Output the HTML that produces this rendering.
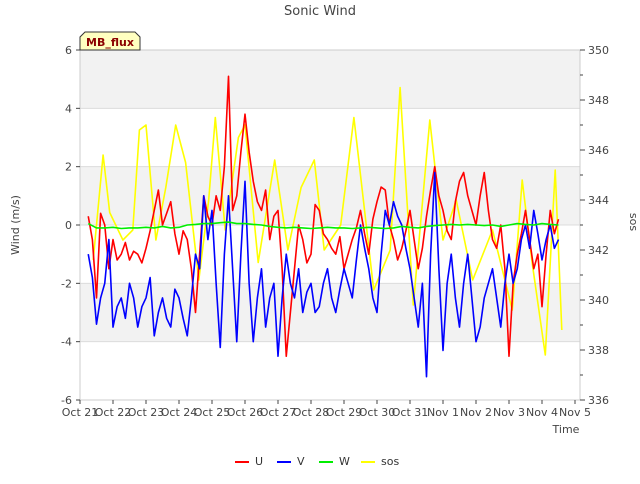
<!DOCTYPE html>
<html><head><meta charset="utf-8"><style>
body{margin:0;background:#fff;font-family:"DejaVu Sans","Liberation Sans",sans-serif;}
svg text{font-family:"DejaVu Sans","Liberation Sans",sans-serif;}
</style></head><body>
<svg id="chart" width="640" height="480" xmlns="http://www.w3.org/2000/svg">
<rect width="640" height="480" fill="#fff"/>
<g id="bands"></g>
<rect x="80" y="50" width="500" height="350" fill="none" stroke="#ccc"/>
<g id="axes"></g>
<g id="series"></g>
<text x="320" y="15" text-anchor="middle" font-size="13" fill="#444">Sonic Wind</text>
<g>
<path d="M80,50 L80,37 L85,32 L135,32 L140,37 L140,50 Z" fill="#ffffc0" stroke="#333"/>
<text x="110" y="46" text-anchor="middle" font-size="11" font-weight="bold" fill="#8b0000">MB_flux</text>
</g>
<text transform="translate(19,225) rotate(-90)" text-anchor="middle" font-size="11" fill="#444">Wind (m/s)</text>
<text transform="translate(630,222) rotate(90)" text-anchor="middle" font-size="11" fill="#444">sos</text>
<text x="566" y="433" text-anchor="middle" font-size="11" fill="#444">Time</text>
<g id="legend"></g>
</svg>
<script>
const xLabels=["Oct 21","Oct 22","Oct 23","Oct 24","Oct 25","Oct 26","Oct 27","Oct 28","Oct 29","Oct 30","Oct 31","Nov 1","Nov 2","Nov 3","Nov 4","Nov 5"];
const yTicks=[-6,-4,-2,0,2,4,6];
const y2Ticks=[336,338,340,342,344,346,348,350];
const uStartDay=0.25, uStepDay=0.125;
const uVals=[0.3,-0.5,-2.5,0.4,0,-1.5,-0.5,-1.2,-1,-0.6,-1.2,-0.9,-1,-1.3,-0.8,-0.2,0.5,1.2,0,0.4,0.8,-0.3,-1,-0.2,-0.5,-1.5,-3,-1,1,0.3,0,1,0.5,2,5.1,0.5,1,2.5,3.8,2.5,1.5,0.8,0.5,1.2,-0.5,0.3,0.5,-1.5,-4.5,-3,-1.5,0,-0.5,-1.3,-1,0.7,0.5,-0.3,-0.5,-0.8,-1,-0.4,-1.5,-1,-0.5,-0.1,0.5,-0.3,-1,0.2,0.8,1.3,1.2,0,-0.5,-1.2,-0.8,-0.2,0.5,-0.5,-1.5,-0.8,0.3,1.2,2,1,0.5,-0.2,-0.5,0.8,1.5,1.8,1,0.5,0,1,1.8,0.5,-0.5,-0.8,0,-1.5,-4.5,-2,-1,-0.3,0.5,-0.5,-1.5,-1,-2.8,-1,0.5,-0.3,0.2];
const vVals=[-1,-1.8,-3.4,-2.5,-2,-0.5,-3.5,-2.8,-2.5,-3.2,-2,-2.5,-3.5,-2.8,-2.5,-1.8,-3.8,-3,-2.5,-3.2,-3.5,-2.2,-2.5,-3.2,-3.8,-2.5,-1,-1.5,1,-0.5,0.5,-2,-4.2,-1,1,-1.5,-4,-1,1.5,-2,-4,-2.5,-1.5,-3.5,-2.5,-2,-4.5,-2.5,-1,-2,-2.5,-1.5,-3,-2.3,-2,-3,-2.8,-2,-1.5,-2.5,-3,-2.2,-1.5,-2,-2.5,-1.2,0,-0.8,-1.5,-2.5,-3,-1,0.5,0,0.8,0.3,0,-0.8,-1.5,-2.5,-3.5,-2,-5.2,-1,1.8,-1.5,-4.3,-2,-1,-2.5,-3.5,-2,-1,-2.5,-4,-3.5,-2.5,-2,-1.5,-2.5,-3.5,-2,-1,-2,-1.5,-0.5,0,-0.8,0.5,-0.3,-1.2,-0.5,0,-0.8,-0.5];
const wStartDay=0.25, wStepDay=0.25;
const wVals=[0.05,-0.1,-0.1,-0.08,-0.12,-0.1,-0.1,-0.08,-0.1,-0.05,-0.1,-0.08,0,0.02,0.05,0.05,0.08,0.1,0.05,0.05,0.02,0,-0.05,-0.08,-0.1,-0.08,-0.1,-0.12,-0.1,-0.08,-0.1,-0.1,-0.12,-0.1,-0.08,-0.1,-0.12,-0.1,-0.05,-0.08,-0.1,-0.05,-0.02,0,0.02,0,0.02,0,-0.02,0,-0.05,0,0.05,0.02,0,0.05,0.02,0];
const sosDays=[0.4,0.7,0.9,1.3,1.6,1.8,2.0,2.3,2.6,2.9,3.2,3.6,3.9,4.1,4.4,4.8,5.0,5.4,5.9,6.3,6.7,7.1,7.4,7.9,8.3,8.9,9.4,9.7,10.1,10.6,11.0,11.4,11.9,12.5,13.1,13.4,13.7,14.1,14.4,14.6];
const sosVals=[341.6,345.8,343.5,342.4,342.8,346.8,347,342.4,344.5,347,345.5,340.8,344,347.3,342.8,346.5,347,341.5,345.6,342,344.5,345.6,342,343,347.3,340.4,342,348.5,339.8,347.2,342.4,344,340.8,342.8,339.6,344.8,341.5,337.8,345.2,338.8];
const X=d=>80+d*33, Y=v=>400-(v+6)*350/12, Y2=v=>400-(v-336)*25;
const ns="http://www.w3.org/2000/svg";
function mk(t,a,p){const e=document.createElementNS(ns,t);for(const k in a)e.setAttribute(k,a[k]);p.appendChild(e);return e;}
const bands=document.getElementById('bands');
[[4,6],[0,2],[-4,-2]].forEach(b=>{const r=mk('rect',{x:80,y:Y(b[1]),width:500,height:Y(b[0])-Y(b[1]),fill:'#f2f2f2'},bands);

});
yTicks.forEach(v=>{mk('line',{x1:80,x2:580,y1:Y(v),y2:Y(v),stroke:'#dcdcdc'},bands);});
const ax=document.getElementById('axes');
yTicks.forEach(v=>{mk('line',{x1:76,x2:80,y1:Y(v),y2:Y(v),stroke:'#444'},ax);
const t=mk('text',{x:72,y:Y(v)+4,'text-anchor':'end','font-size':11,fill:'#444'},ax);t.textContent=v;

});
for(let v=336;v<=350;v++){mk('line',{x1:580,x2:v%2?583:585,y1:Y2(v),y2:Y2(v),stroke:'#444'},ax);}
y2Ticks.forEach(v=>{const t=mk('text',{x:588,y:Y2(v)+4,'font-size':11,fill:'#444'},ax);t.textContent=v;

});
xLabels.forEach((l,i)=>{mk('line',{x1:X(i),x2:X(i),y1:400,y2:404,stroke:'#444'},ax);
const t=mk('text',{x:X(i),y:416,'text-anchor':'middle','font-size':11,fill:'#444'},ax);t.textContent=l;

});
const sg=document.getElementById('series');
function line(days,vals,f,c,name){const p=mk('polyline',{points:days.map((d,i)=>X(d)+','+f(vals[i])).join(' '),fill:'none',stroke:c,'stroke-width':1.6,'stroke-linejoin':'round'},sg);

}
const uvDays=uVals.map((_,i)=>uStartDay+i*uStepDay);
const wDays=wVals.map((_,i)=>wStartDay+i*wStepDay);
line(sosDays,sosVals,Y2,'#ffff00','sos-line');
line(uvDays,uVals,Y,'#ff0000','u-line');
line(uvDays,vVals,Y,'#0000ff','v-line');
line(wDays,wVals,Y,'#00ee00','w-line');
const lg=document.getElementById('legend');
[['U','#ff0000',235],['V','#0000ff',277],['W','#00ee00',319],['sos','#ffff00',361]].forEach(e=>{
const g=mk('g',{},lg);


mk('line',{x1:e[2],x2:e[2]+14,y1:462,y2:462,stroke:e[1],'stroke-width':2},g);
const t=mk('text',{x:e[2]+20,y:465,'font-size':11,fill:'#333'},g);t.textContent=e[0];});
</script>
</body></html>
